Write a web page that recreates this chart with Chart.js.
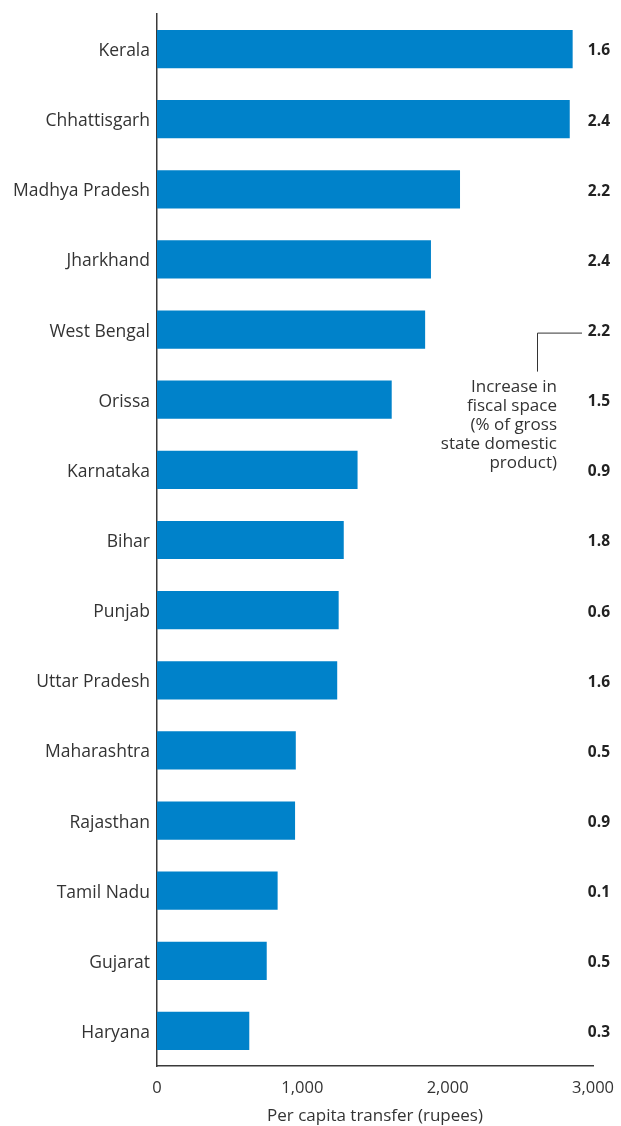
<!DOCTYPE html>
<html>
<head>
<meta charset="utf-8">
<script src="https://cdn.jsdelivr.net/npm/chart.js@4"></script>
<style>
  html, body { margin: 0; padding: 0; background: #fff; }
  #wrap { width: 621px; height: 1126px; position: relative; }
</style>
</head>
<body>
<div id="wrap"><canvas id="c" width="621" height="1126"></canvas></div>
<script>
// States, per capita transfer (rupees) and increase in fiscal space (% of GSDP)
const states = ['Kerala', 'Chhattisgarh', 'Madhya Pradesh', 'Jharkhand', 'West Bengal', 'Orissa',
  'Karnataka', 'Bihar', 'Punjab', 'Uttar Pradesh', 'Maharashtra', 'Rajasthan', 'Tamil Nadu',
  'Gujarat', 'Haryana'];
const perCapitaTransfer = [2860, 2840, 2085, 1885, 1845, 1615, 1380, 1285, 1250, 1240, 955, 950, 830, 755, 635];
const fiscalSpace = ['1.6', '2.4', '2.2', '2.4', '2.2', '1.5', '0.9', '1.8', '0.6', '1.6', '0.5', '0.9', '0.1', '0.5', '0.3'];
const xTicks = [0, 1000, 2000, 3000];
const noteLines = ['Increase in', 'fiscal space', '(% of gross', 'state domestic', 'product)'];

const FONT = '"Open Sans", Lato, sans-serif';
const BLUE = '#0082CA';
const AXIS = '#3a3a3a';

// Right-hand column of fiscal-space values plus the explanatory note
const sideValues = {
  id: 'sideValues',
  afterDraw(chart) {
    const ctx = chart.ctx;
    const y = chart.scales.y;
    const area = chart.chartArea;
    const rightX = chart.width - 11;
    ctx.save();
    ctx.fillStyle = '#222';
    ctx.font = 'bold 15.5px ' + FONT;
    ctx.textAlign = 'right';
    ctx.textBaseline = 'middle';
    fiscalSpace.forEach((v, i) => {
      ctx.fillText(v, rightX, y.getPixelForValue(i) + 2);
    });

    // leader from the West Bengal value to the note
    const wbY = y.getPixelForValue(4) + 3;
    const lx = area.right - 56;
    ctx.strokeStyle = '#333';
    ctx.lineWidth = 1;
    ctx.beginPath();
    ctx.moveTo(area.right - 11, wbY + 0.5);
    ctx.lineTo(lx + 0.5, wbY + 0.5);
    ctx.lineTo(lx + 0.5, wbY + 39);
    ctx.stroke();

    ctx.fillStyle = '#333';
    ctx.font = '17px ' + FONT;
    ctx.textAlign = 'right';
    noteLines.forEach((t, k) => {
      ctx.fillText(t, lx + 20, wbY + 55 + k * 19);
    });
    ctx.restore();
  }
};

new Chart(document.getElementById('c'), {
  type: 'bar',
  data: {
    labels: states,
    datasets: [{
      data: perCapitaTransfer,
      backgroundColor: BLUE,
      borderWidth: 0,
      categoryPercentage: 1,
      barPercentage: 0.545
    }]
  },
  options: {
    indexAxis: 'y',
    responsive: false,
    animation: false,
    layout: { padding: { top: 14, right: 28, left: 0, bottom: 0 } },
    plugins: { legend: { display: false }, tooltip: { enabled: false } },
    scales: {
      x: {
        min: 0, max: 3000,
        afterBuildTicks(scale) { scale.ticks = xTicks.map(v => ({ value: v })); },
        afterFit(scale) {
          scale.height = 60;
          scale.paddingLeft = 0;
          scale.paddingRight = 0;
        },
        grid: { display: false, drawTicks: false },
        border: { display: true, color: AXIS, width: 1.5 },
        ticks: {
          color: '#333',
          font: { family: FONT, size: 16.5 },
          padding: 12,
          maxRotation: 0,
          callback: v => v.toLocaleString('en-US')
        },
        title: {
          display: true,
          text: 'Per capita transfer (rupees)',
          color: '#333',
          font: { family: FONT, size: 17 },
          padding: { top: 0, bottom: 0 }
        }
      },
      y: {
        afterFit(scale) {
          scale.width = 157;
          scale.paddingTop = 0;
          scale.paddingBottom = 0;
        },
        grid: { display: false, drawTicks: false },
        border: { display: true, color: AXIS, width: 1.5 },
        ticks: {
          color: '#333',
          font: { family: FONT, size: 17.5 },
          padding: 7,
          labelOffset: 2
        }
      }
    }
  },
  plugins: [sideValues]
});
</script>
</body>
</html>
